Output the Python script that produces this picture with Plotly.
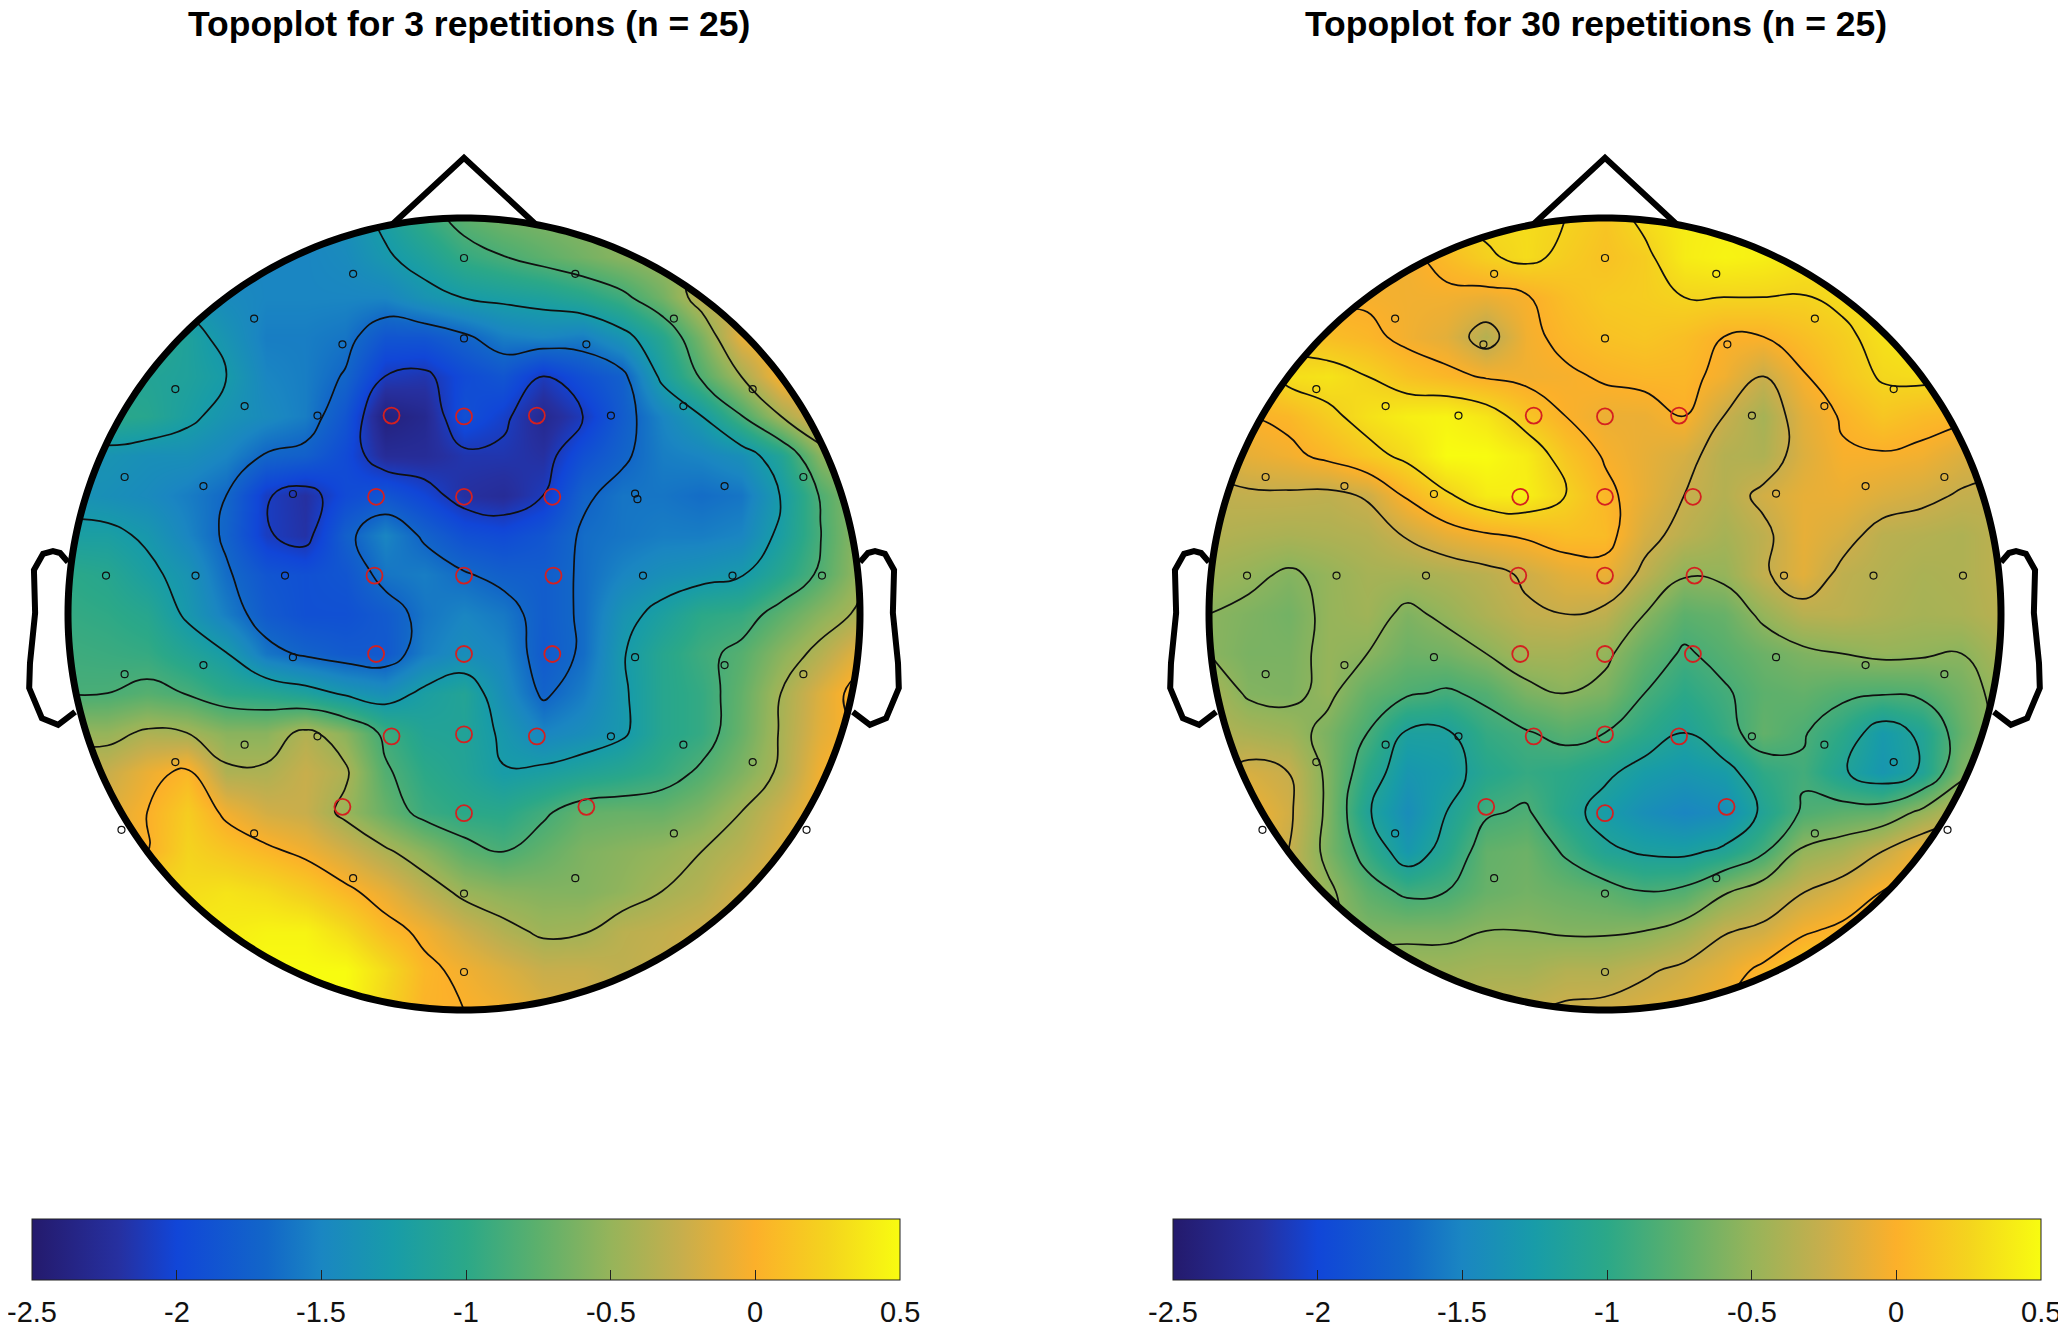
import numpy as np
import plotly.graph_objects as go

# values on a 21x21 grid over the head, rows top to bottom
left_rows = [
    [-1.5,-1.5,-1.5,-1.5,-1.55,-1.55,-1.5,-1.4,-1.2,-.95,-.75,-.65,-.6,-.55,-.5,-.45,-.4,-.3,-.2,-.1,0],
    [-1.4,-1.4,-1.4,-1.45,-1.5,-1.5,-1.5,-1.45,-1.3,-1.15,-.95,-.85,-.75,-.65,-.55,-.48,-.38,-.25,-.1,0,.05],
    [-1.2,-1.2,-1.25,-1.35,-1.45,-1.5,-1.5,-1.5,-1.5,-1.35,-1.25,-1.2,-1.15,-1.05,-.9,-.65,-.3,-.2,-.05,.05,.05],
    [-1.05,-1.0,-1.0,-1.15,-1.35,-1.55,-1.55,-1.6,-1.85,-1.85,-1.72,-1.55,-1.5,-1.55,-1.35,-1.05,-.62,-.1,.05,.1,.05],
    [-1.1,-1.1,-1.1,-1.15,-1.26,-1.5,-1.55,-1.7,-2.1,-2.15,-1.95,-1.85,-2.1,-1.9,-1.75,-1.2,-.8,-.42,0,.05,.05],
    [-1.05,-1.0,-1.05,-1.2,-1.35,-1.45,-1.55,-1.85,-2.4,-2.3,-1.9,-2.05,-2.3,-2.1,-1.78,-1.5,-1.26,-.85,-.42,-.1,0],
    [-1.4,-1.35,-1.4,-1.4,-1.5,-1.7,-1.75,-1.95,-2.25,-2.25,-2.15,-2.15,-2.2,-1.9,-1.72,-1.55,-1.5,-1.4,-1.1,-.55,-.3],
    [-1.35,-1.4,-1.45,-1.55,-1.68,-2.08,-2.2,-1.95,-1.85,-2.0,-2.2,-2.25,-2.1,-1.72,-1.6,-1.6,-1.65,-1.6,-1.25,-.82,-.5],
    [-1.2,-1.2,-1.3,-1.5,-1.72,-2.08,-2.18,-1.75,-1.5,-1.72,-1.9,-1.95,-1.85,-1.65,-1.6,-1.55,-1.55,-1.5,-1.2,-.85,-.5],
    [-1.0,-1.05,-1.2,-1.35,-1.65,-1.85,-1.9,-1.85,-1.6,-1.55,-1.66,-1.75,-1.78,-1.65,-1.5,-1.4,-1.35,-1.28,-1.05,-.8,-.48],
    [-.95,-.98,-1.05,-1.3,-1.55,-1.8,-1.9,-1.9,-1.8,-1.6,-1.5,-1.58,-1.78,-1.65,-1.35,-1.18,-1.0,-.95,-.75,-.55,-.38],
    [-.9,-.92,-.95,-1.1,-1.25,-1.6,-1.72,-1.8,-1.82,-1.55,-1.42,-1.5,-1.8,-1.65,-1.28,-1.05,-.9,-.78,-.55,-.35,-.1],
    [-.85,-.84,-.78,-.85,-1.0,-1.05,-1.15,-1.3,-1.4,-1.2,-1.1,-1.42,-1.72,-1.55,-1.3,-1.05,-.95,-.72,-.42,-.15,.1],
    [-.5,-.5,-.38,-.42,-.55,-.55,-.36,-.55,-.9,-1.1,-1.12,-1.3,-1.5,-1.42,-1.3,-1.05,-.95,-.7,-.4,-.12,.05],
    [-.25,-.25,-.08,.05,-.38,-.38,-.25,-.38,-.8,-1.0,-1.1,-1.25,-1.2,-1.12,-1.05,-.95,-.8,-.6,-.38,-.05,.1],
    [-.1,-.15,0,.2,-.05,-.2,-.25,-.48,-.7,-.92,-1.0,-1.02,-.88,-.72,-.7,-.7,-.6,-.42,-.22,-.02,.1],
    [-.05,-.1,0,.25,.15,.05,-.05,-.2,-.38,-.55,-.75,-.84,-.72,-.6,-.55,-.5,-.42,-.32,-.15,0,.1],
    [.3,.3,.3,.3,.35,.3,.2,.05,-.1,-.3,-.48,-.55,-.58,-.58,-.52,-.42,-.35,-.2,-.1,0,.05],
    [.4,.4,.4,.4,.4,.45,.45,.3,.08,-.05,-.22,-.36,-.46,-.44,-.32,-.28,-.22,-.15,-.1,0,0],
    [.45,.45,.45,.45,.45,.5,.5,.5,.3,.05,-.05,-.15,-.25,-.25,-.3,-.25,-.2,-.15,-.1,0,0],
    [.45,.45,.45,.45,.45,.5,.5,.5,.25,.02,0,-.05,-.15,-.2,-.25,-.25,-.2,-.15,-.1,0,0],
]
right_rows = [
    [.2,.2,.2,.2,.2,.2,.25,.3,.3,.25,.15,.3,.4,.42,.45,.45,.45,.4,.4,.4,.4],
    [.15,.15,.15,.15,-.05,-.05,.08,.22,.3,.2,.12,.2,.4,.45,.42,.35,.3,.3,.3,.3,.3],
    [.15,.15,.15,-.03,-.03,-.05,-.05,-.08,-.02,.1,.18,.2,.25,.25,.25,.24,.3,.35,.35,.35,.35],
    [.1,.1,.15,.1,.05,-.05,-.12,-.35,-.05,.05,.12,.15,.1,0,0,.1,.2,.33,.4,.4,.4],
    [.1,.1,.32,.35,.25,.12,.05,-.02,-.05,-.03,.02,.05,.05,-.05,-.25,-.02,.15,.27,.3,.25,.2],
    [0,0,.05,.2,.33,.42,.45,.36,.15,0,-.08,-.08,0,-.25,-.42,-.12,.02,.15,.08,.05,.03],
    [-.2,-.1,-.05,.05,.18,.3,.5,.5,.4,.15,-.02,-.1,-.18,-.35,-.38,-.15,-.02,-.02,-.05,-.15,-.2],
    [-.3,-.28,-.28,-.3,-.23,.03,.22,.4,.42,.25,.05,-.1,-.25,-.35,-.2,-.1,-.08,-.15,-.2,-.27,-.3],
    [-.35,-.38,-.4,-.38,-.35,-.23,-.1,-.02,.03,.1,.08,-.18,-.32,-.42,-.3,-.1,-.18,-.32,-.35,-.38,-.3],
    [-.45,-.5,-.58,-.5,-.42,-.42,-.38,-.32,-.22,-.12,-.08,-.3,-.53,-.5,-.28,-.12,-.3,-.35,-.4,-.38,-.3],
    [-.55,-.6,-.65,-.5,-.45,-.6,-.5,-.38,-.28,-.25,-.3,-.55,-.75,-.7,-.5,-.33,-.32,-.38,-.42,-.4,-.32],
    [-.55,-.62,-.62,-.5,-.55,-.68,-.65,-.55,-.42,-.42,-.5,-.72,-.88,-.78,-.68,-.6,-.55,-.5,-.52,-.55,-.4],
    [-.4,-.58,-.6,-.5,-.72,-.82,-.88,-.8,-.62,-.55,-.62,-.85,-1.0,-.88,-.75,-.72,-.8,-.83,-.8,-.65,-.48],
    [-.35,-.4,-.45,-.62,-.85,-1.18,-1.18,-.95,-.87,-.78,-.85,-1.0,-1.15,-.95,-.72,-.83,-1.0,-1.28,-1.1,-.72,-.45],
    [-.3,-.18,-.25,-.6,-1.0,-1.32,-1.25,-1.05,-.95,-1.0,-1.1,-1.25,-1.32,-1.25,-.98,-.88,-1.12,-1.32,-1.12,-.62,-.4],
    [-.05,-.05,-.2,-.6,-1.12,-1.42,-1.15,-.88,-.82,-1.05,-1.25,-1.4,-1.5,-1.42,-1.1,-.82,-.75,-.72,-.5,-.3,-.3],
    [0,0,-.25,-.62,-.95,-1.3,-1.05,-.72,-.68,-.88,-1.1,-1.18,-1.2,-1.1,-.88,-.5,-.42,-.25,-.05,-.1,-.1],
    [-.1,-.1,-.3,-.5,-.75,-.9,-.85,-.7,-.65,-.7,-.75,-.85,-.8,-.58,-.42,-.26,-.15,0,.05,.05,.05],
    [-.4,-.4,-.45,-.5,-.6,-.6,-.6,-.55,-.55,-.58,-.58,-.55,-.45,-.27,-.2,-.03,.05,.1,.1,.1,.1],
    [-.45,-.45,-.45,-.45,-.45,-.45,-.45,-.42,-.42,-.35,-.35,-.28,-.2,-.1,.05,.2,.2,.2,.15,.1,.1],
    [-.4,-.4,-.4,-.4,-.4,-.4,-.4,-.3,-.27,-.22,-.2,-.15,-.1,0,.1,.2,.2,.2,.15,.1,.1],
]
grid = [-1,-.9,-.8,-.7,-.6,-.5,-.4,-.3,-.2,-.1,0,.1,.2,.3,.4,.5,.6,.7,.8,.9,1]

left_levels = [-2.1, -1.68, -1.26, -0.84, -0.42, 0]
right_levels = [-1.15, -0.85, -0.55, -0.25, 0, 0.25]

# electrodes in head units (radius 1)
elec_x = [0,.281,-.28,.53,-.53,0,.309,-.307,-.729,.729,-.554,.554,-.37,.371,-.857,-.658,-.432,.658,.857,.432,
          -.904,-.678,-.452,.452,.678,.904,-.857,-.658,-.432,.432,.658,.857,-.554,-.37,.371,.554,-.729,.729,
          -.865,-.53,.53,.865,-.28,.281,0,0]
elec_y = [.899,.859,.859,.746,.746,.696,.681,.681,.568,.568,.525,.525,.501,.501,.346,.323,.303,.323,.346,.304,
          .097,.097,.097,.097,.097,.097,-.152,-.129,-.109,-.109,-.129,-.152,-.33,-.309,-.309,-.33,-.374,-.374,
          -.545,-.554,-.554,-.545,-.667,-.667,-.706,-.904]
left_extra_x = [.438]
left_extra_y = [.29]

red_y = [.501,.499,.501,.296,.296,.296,.097,.097,.097,-.101,-.101,-.101,-.309,-.304,-.309,-.487,-.503,-.487]
red_x_left = [-.183,0,.184,-.222,0,.223,-.226,0,.226,-.222,0,.223,-.183,0,.184,-.307,0,.309]
red_x_right = [-.18,0,.187,-.214,0,.222,-.219,0,.226,-.214,0,.222,-.18,0,.187,-.3,0,.307]

# head outline pieces
nose_x = [-.18, 0, .18]
nose_y = [.985, 1.152, .985]
ear_x = [-1.0,-1.02,-1.038,-1.063,-1.086,-1.083,-1.096,-1.098,-1.066,-1.025,-.982]
ear_y = [.131,.154,.159,.152,.111,.003,-.124,-.187,-.263,-.28,-.247]

bar_ticks = [-2.5, -2, -1.5, -1, -0.5, 0, 0.5]
bar_labels = ["-2.5", "-2", "-1.5", "-1", "-0.5", "0", "0.5"]
colors = ["#241a6c", "#2630a0", "#1146d8", "#1266c8", "#1a86c2", "#189ca8", "#2ba888",
          "#5cb06c", "#96b45a", "#c8ae4c", "#fcb02a", "#f4d41e", "#f8fc10"]
color_pos = [0, .1, .167, .27, .333, .417, .5, .583, .667, .75, .833, .917, 1]

# the page body has an 8px margin, so all positions are page pixels minus 8
W, H = 2058, 1324
R = 396
CY = 606
BAR_W = 868

t = np.linspace(0, 2 * np.pi, 361)
circle_x, circle_y = np.cos(t), np.sin(t)
# white keyhole polygon hiding everything outside the head, circle runs the other way round
mask_x = [1.12, 1.12, -1.12, -1.12, 1.12, 1.12] + list(circle_x[::-1]) + [1.12]
mask_y = [0, 1.3, 1.3, -1.3, -1.3, 0] + list(circle_y[::-1]) + [0]

fig = go.Figure()


def add_panel(n, cx, bar_left, title_x, rows, levels, red_x, extra_x, extra_y, title):
    xa, ya = ("x", "y") if n == 1 else ("x2", "y2")
    z = np.array(rows)[::-1]
    fig.add_trace(go.Heatmap(x=grid, y=grid, z=z, zsmooth="best", zmin=-2.5, zmax=0.5,
                             colorscale=list(zip(color_pos, colors)), xaxis=xa, yaxis=ya,
                             hoverinfo="skip",
                             colorbar=dict(orientation="h", lenmode="pixels", len=BAR_W,
                                           thicknessmode="pixels", thickness=61,
                                           x=(bar_left + BAR_W / 2) / W, xanchor="center", xref="paper",
                                           y=1 - 1211 / H, yanchor="top", yref="paper",
                                           xpad=0, ypad=0, outlinecolor="#222222", outlinewidth=1,
                                           ticks="inside", ticklen=10, tickwidth=1, tickcolor="#222222",
                                           tickmode="array", tickvals=bar_ticks, showticklabels=False)))
    for level in levels:
        fig.add_trace(go.Contour(x=grid, y=grid, z=z, xaxis=xa, yaxis=ya, showscale=False,
                                 contours=dict(coloring="none", start=level, end=level, size=1),
                                 line=dict(color="#101010", width=1.7, smoothing=1.3), hoverinfo="skip"))
    fig.add_trace(go.Scatter(x=mask_x, y=mask_y, mode="none", fill="toself", fillcolor="white",
                             xaxis=xa, yaxis=ya, hoverinfo="skip"))
    line = dict(color="black", width=6)
    fig.add_trace(go.Scatter(x=nose_x, y=nose_y, mode="lines", line=line, xaxis=xa, yaxis=ya))
    fig.add_trace(go.Scatter(x=ear_x, y=ear_y, mode="lines", line=line, xaxis=xa, yaxis=ya))
    fig.add_trace(go.Scatter(x=[-v for v in ear_x], y=ear_y, mode="lines", line=line, xaxis=xa, yaxis=ya))
    fig.add_trace(go.Scatter(x=circle_x, y=circle_y, mode="lines", xaxis=xa, yaxis=ya,
                             line=dict(color="black", width=7, simplify=False)))
    fig.add_trace(go.Scatter(x=elec_x + extra_x, y=elec_y + extra_y, mode="markers", xaxis=xa, yaxis=ya,
                             marker=dict(symbol="circle-open", size=7, color="#101010", line=dict(width=1.2))))
    fig.add_trace(go.Scatter(x=red_x, y=red_y, mode="markers", xaxis=xa, yaxis=ya,
                             marker=dict(symbol="circle-open", size=16, color="#d42020", line=dict(width=1.8))))
    fig.add_annotation(text="<b>%s</b>" % title, xref="paper", yref="paper", x=title_x / W, y=1 - 16 / H,
                       xanchor="center", yanchor="middle", showarrow=False,
                       font=dict(family="Liberation Sans", size=35.5, color="black"))
    for tick, label in zip(bar_ticks, bar_labels):
        fig.add_annotation(text=label, xref="paper", yref="paper",
                           x=(bar_left + (tick + 2.5) / 3 * BAR_W) / W, y=1 - 1304 / H,
                           xanchor="center", yanchor="middle", showarrow=False,
                           font=dict(family="Liberation Sans", size=29, color="#111111"))


add_panel(1, 456, 24, 461, left_rows, left_levels, red_x_left, left_extra_x, left_extra_y,
          "Topoplot for 3 repetitions (n = 25)")
add_panel(2, 1597, 1165, 1588, right_rows, right_levels, red_x_right, [], [],
          "Topoplot for 30 repetitions (n = 25)")

half_x = 1.125 * R
half_y = 1.2 * R
axis = dict(visible=False, showgrid=False, zeroline=False, fixedrange=True)
fig.update_layout(
    width=W, height=H, margin=dict(l=0, r=0, t=0, b=0), paper_bgcolor="white", plot_bgcolor="white",
    showlegend=False,
    xaxis=dict(axis, domain=[(456 - half_x) / W, (456 + half_x) / W], range=[-1.125, 1.125]),
    yaxis=dict(axis, domain=[1 - (CY + half_y) / H, 1 - (CY - half_y) / H], range=[-1.2, 1.2]),
    xaxis2=dict(axis, domain=[(1597 - half_x) / W, (1597 + half_x) / W], range=[-1.125, 1.125]),
    yaxis2=dict(axis, domain=[1 - (CY + half_y) / H, 1 - (CY - half_y) / H], range=[-1.2, 1.2]),
)
fig.write_html("out.html")
